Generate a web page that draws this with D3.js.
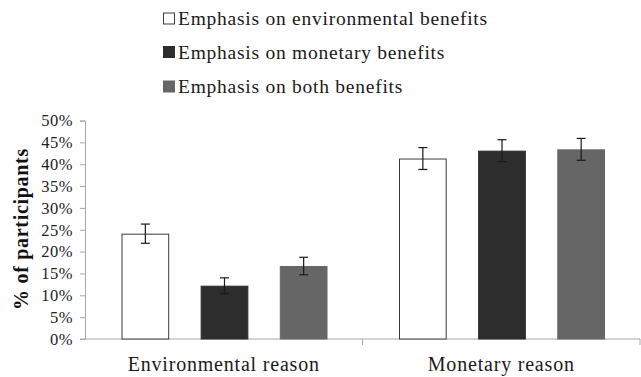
<!DOCTYPE html>
<html>
<head>
<meta charset="utf-8">
<script src="https://cdn.jsdelivr.net/npm/d3@7"></script>
<style>
  html, body { margin: 0; padding: 0; background: #fff; }
  svg { display: block; }
</style>
</head>
<body>
<svg id="chart" width="641" height="377"></svg>
<script>
const categories = ["Environmental reason", "Monetary reason"];
const seriesNames = [
  "Emphasis on environmental benefits",
  "Emphasis on monetary benefits",
  "Emphasis on both benefits"
];
const envValues = [24.1, 12.2, 16.7];
const envErrors = [2.2, 1.8, 2.0];
const monValues = [41.3, 43.1, 43.4];
const monErrors = [2.5, 2.5, 2.5];
const yTicks = [0, 5, 10, 15, 20, 25, 30, 35, 40, 45, 50];
const seriesFills = ["#ffffff", "#2d2d2d", "#666666"];

const FONT = "Liberation Serif";
const rows = [
  { cat: categories[0], values: envValues, errors: envErrors },
  { cat: categories[1], values: monValues, errors: monErrors }
];

const svg = d3.select("#chart");
const m = { left: 85, right: 640, top: 120.5, bottom: 339 };

const x0 = d3.scaleBand().domain(categories).range([m.left, m.right]).padding(0);
const x1 = d3.scaleBand().domain(seriesNames)
  .range([36.5, x0.bandwidth() - 36]).paddingInner(0.41).paddingOuter(0);
const y = d3.scaleLinear().domain([0, 50]).range([m.bottom, m.top]);
const color = d3.scaleOrdinal().domain(seriesNames).range(seriesFills);

// Y axis
const yAxis = d3.axisLeft(y).tickValues(yTicks).tickSize(5).tickPadding(7)
  .tickFormat(d => d + "%");
const gy = svg.append("g").attr("transform", `translate(${m.left},0)`).call(yAxis);
gy.attr("font-family", FONT);
gy.select(".domain").attr("stroke", "#a8a8a8");
gy.selectAll(".tick line").attr("stroke", "#a8a8a8");
gy.selectAll(".tick text").style("font-size", "16.5px")
  .style("font-family", FONT).style("letter-spacing", "0.5px").attr("fill", "#222");

// X axis
const xAxis = d3.axisBottom(x0).tickSize(0).tickPadding(18);
const gx = svg.append("g").attr("transform", `translate(0,${m.bottom})`).call(xAxis);
gx.attr("font-family", FONT);
gx.select(".domain").attr("d", `M${m.left - 5},0H${m.right}`).attr("stroke", "#a8a8a8");
gx.selectAll(".tick text").style("font-size", "20px")
  .style("font-family", FONT).style("letter-spacing", "0.8px").attr("fill", "#1a1a1a")
  .attr("dy", "0.71em");
gx.selectAll(".bound").data(categories.slice(1).map(c => x0(c)).concat([m.right]))
  .enter().append("line").attr("class", "bound")
  .attr("x1", d => d).attr("x2", d => d).attr("y1", 0).attr("y2", 6)
  .attr("stroke", "#a8a8a8");

// Bars
const groups = svg.append("g").selectAll("g").data(rows).enter().append("g")
  .attr("transform", d => `translate(${x0(d.cat)},0)`);

groups.selectAll("rect").data(d => d.values.map((v, i) => ({ name: seriesNames[i], v })))
  .enter().append("rect")
  .attr("x", d => x1(d.name) + 0.5)
  .attr("y", d => y(d.v) + 0.5)
  .attr("width", x1.bandwidth())
  .attr("height", d => y(0) - y(d.v) - 0.5)
  .attr("fill", d => color(d.name))
  .attr("stroke", d => d.name === seriesNames[0] ? "#3a3a3a" : color(d.name))
  .attr("stroke-width", 1);

// Error bars
const eb = groups.selectAll("g.err")
  .data(d => d.values.map((v, i) => ({ name: seriesNames[i], v, e: d.errors[i] })))
  .enter().append("g").attr("class", "err");
const cx = d => x1(d.name) + x1.bandwidth() / 2 + 0.5;
eb.append("line").attr("x1", cx).attr("x2", cx)
  .attr("y1", d => y(d.v + d.e)).attr("y2", d => y(d.v - d.e))
  .attr("stroke", "#1a1a1a").attr("stroke-width", 1.2);
eb.append("line").attr("x1", d => cx(d) - 4.5).attr("x2", d => cx(d) + 4.5)
  .attr("y1", d => y(d.v + d.e)).attr("y2", d => y(d.v + d.e))
  .attr("stroke", "#1a1a1a").attr("stroke-width", 1.2);
eb.append("line").attr("x1", d => cx(d) - 4.5).attr("x2", d => cx(d) + 4.5)
  .attr("y1", d => y(d.v - d.e)).attr("y2", d => y(d.v - d.e))
  .attr("stroke", "#1a1a1a").attr("stroke-width", 1.2);

// Y title
svg.append("text")
  .attr("transform", `translate(28,${229}) rotate(-90)`)
  .attr("text-anchor", "middle")
  .style("font-family", FONT)
  .style("font-size", "20px").style("font-weight", "bold")
  .style("letter-spacing", "0.7px")
  .attr("fill", "#111")
  .text("% of participants");

// Legend
const legendY = [18.5, 52, 86.5];
const lg = svg.append("g").selectAll("g").data(seriesNames).enter().append("g")
  .attr("transform", (d, i) => `translate(163,${legendY[i]})`);
lg.append("rect").attr("x", 0.5).attr("y", -5.5).attr("width", 11).attr("height", 11)
  .attr("fill", d => color(d))
  .attr("stroke", (d, i) => i === 0 ? "#3a3a3a" : color(d));
lg.append("text").attr("x", 15).attr("y", 0).attr("dy", "0.35em")
  .style("font-family", FONT)
  .style("font-size", "19.5px").style("letter-spacing", "0.75px")
  .attr("fill", "#1a1a1a").text(d => d);
</script>
</body>
</html>
